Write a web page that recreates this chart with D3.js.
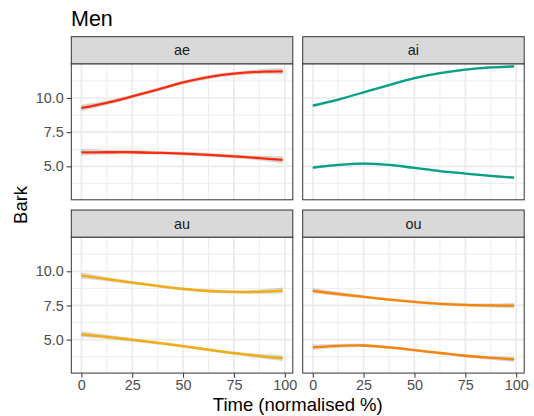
<!DOCTYPE html>
<html>
<head>
<meta charset="utf-8">
<script src="https://cdn.jsdelivr.net/npm/d3@7"></script>
<style>
  body { margin: 0; background: #fff; }
  text { font-family: "Liberation Sans", Arial, sans-serif; }
</style>
</head>
<body>
<div id="chart"></div>
<script>
// data
const vowels = ['ae', 'ai', 'au', 'ou'];
const colours = ['#FF2A0A', '#00A08A', '#F2AD00', '#F98400'];
const timePoints = [0, 12.5, 25, 37.5, 50, 62.5, 75, 87.5, 99];

const aeHigh = [9.27, 9.65, 10.12, 10.62, 11.14, 11.53, 11.78, 11.92, 11.95];
const aeLow  = [6.02, 6.03, 6.03, 5.99, 5.93, 5.84, 5.73, 5.60, 5.47];
const aiHigh = [9.44, 9.88, 10.42, 10.95, 11.45, 11.82, 12.08, 12.24, 12.31];
const aiLow  = [4.90, 5.10, 5.20, 5.10, 4.88, 4.65, 4.47, 4.30, 4.17];
const auHigh = [9.69, 9.43, 9.17, 8.93, 8.71, 8.56, 8.49, 8.50, 8.59];
const auLow  = [5.39, 5.20, 4.99, 4.76, 4.52, 4.26, 4.01, 3.80, 3.64];
const ouHigh = [8.57, 8.34, 8.13, 7.93, 7.76, 7.62, 7.54, 7.50, 7.49];
const ouLow  = [4.44, 4.54, 4.57, 4.43, 4.23, 4.02, 3.82, 3.67, 3.55];

// half width of the grey confidence band
const aeBand = [0.24, 0.17, 0.14, 0.13, 0.13, 0.13, 0.14, 0.17, 0.26];
const aiBand = [0.12, 0.09, 0.08, 0.08, 0.08, 0.08, 0.08, 0.09, 0.12];
const auBand = [0.22, 0.15, 0.12, 0.11, 0.11, 0.11, 0.12, 0.15, 0.22];
const ouBand = [0.2, 0.14, 0.11, 0.1, 0.1, 0.1, 0.11, 0.14, 0.2];

const xTicks = [0, 25, 50, 75, 100];
const xMinor = [12.5, 37.5, 62.5, 87.5];
const yTicks = [5, 7.5, 10];
const yMinor = [3.75, 6.25, 8.75, 11.25];

const lines = {
    ae: [aeHigh, aeLow], ai: [aiHigh, aiLow],
    au: [auHigh, auLow], ou: [ouHigh, ouLow]
};
const bands = { ae: aeBand, ai: aiBand, au: auBand, ou: ouBand };

const W = 534, H = 416;
const svg = d3.select('#chart').append('svg')
    .attr('width', W).attr('height', H);

const colX = [71.3, 302.7];
const panelW = 221.5;
const rowStrip = [36.7, 210];
const stripH = 27.3;
const panelH = 135.8;

const x = d3.scaleLinear().domain([-4.95, 103.95]).range([0, panelW]);
const y = d3.scaleLinear().domain([2.55, 12.49]).range([panelH, 0]);

svg.append('text')
    .attr('x', 71).attr('y', 26)
    .attr('font-size', 21.5)
    .attr('fill', '#000')
    .text('Men');

vowels.forEach((v, i) => {
    const col = i % 2, row = Math.floor(i / 2);
    const left = colX[col];
    const stripTop = rowStrip[row];
    const top = stripTop + stripH;

    // strip
    svg.append('rect')
        .attr('x', left).attr('y', stripTop)
        .attr('width', panelW).attr('height', stripH)
        .attr('fill', '#D9D9D9').attr('stroke', '#333').attr('stroke-width', 1);
    svg.append('text')
        .attr('x', left + panelW / 2).attr('y', stripTop + stripH / 2 + 5)
        .attr('text-anchor', 'middle')
        .attr('font-size', 14.4).attr('fill', '#1A1A1A')
        .text(v);

    const g = svg.append('g').attr('transform', `translate(${left},${top})`);
    g.append('rect').attr('width', panelW).attr('height', panelH).attr('fill', '#fff');

    // grid
    g.selectAll('.ym').data(yMinor).enter().append('line')
        .attr('x1', 0).attr('x2', panelW)
        .attr('y1', d => y(d)).attr('y2', d => y(d))
        .attr('stroke', '#EBEBEB').attr('stroke-width', 0.9);
    g.selectAll('.xm').data(xMinor).enter().append('line')
        .attr('y1', 0).attr('y2', panelH)
        .attr('x1', d => x(d)).attr('x2', d => x(d))
        .attr('stroke', '#EBEBEB').attr('stroke-width', 0.9);
    g.selectAll('.yM').data(yTicks).enter().append('line')
        .attr('x1', 0).attr('x2', panelW)
        .attr('y1', d => y(d)).attr('y2', d => y(d))
        .attr('stroke', '#EBEBEB').attr('stroke-width', 1.7);
    g.selectAll('.xM').data(xTicks).enter().append('line')
        .attr('y1', 0).attr('y2', panelH)
        .attr('x1', d => x(d)).attr('x2', d => x(d))
        .attr('stroke', '#EBEBEB').attr('stroke-width', 1.7);

    const clip = 'clip-' + v;
    g.append('clipPath').attr('id', clip).append('rect')
        .attr('width', panelW).attr('height', panelH);
    const plot = g.append('g').attr('clip-path', `url(#${clip})`);

    const area = d3.area()
        .x((d, j) => x(timePoints[j]))
        .y0((d, j) => y(d - bands[v][j]))
        .y1((d, j) => y(d + bands[v][j]))
        .curve(d3.curveCatmullRom);
    const line = d3.line()
        .x((d, j) => x(timePoints[j]))
        .y(d => y(d))
        .curve(d3.curveCatmullRom);

    lines[v].forEach(series => {
        plot.append('path').datum(series)
            .attr('d', area)
            .attr('fill', '#999').attr('fill-opacity', 0.4);
        plot.append('path').datum(series)
            .attr('d', line)
            .attr('fill', 'none')
            .attr('stroke', colours[i]).attr('stroke-width', 2.3);
    });

    g.append('rect').attr('width', panelW).attr('height', panelH)
        .attr('fill', 'none').attr('stroke', '#333').attr('stroke-width', 1);

    // axes
    if (col === 0) {
        const ya = g.append('g').call(d3.axisLeft(y).tickValues(yTicks)
            .tickSize(4.6).tickPadding(3).tickFormat(d3.format('.1f')));
        ya.select('.domain').remove();
        ya.selectAll('line').attr('stroke', '#333');
        ya.selectAll('text').attr('font-size', 14.4).attr('fill', '#4D4D4D')
            .attr('font-family', '"Liberation Sans", Arial, sans-serif');
    }
    if (row === 1) {
        const xa = g.append('g').attr('transform', `translate(0,${panelH})`)
            .call(d3.axisBottom(x).tickValues(xTicks).tickSize(4.6).tickPadding(2.5));
        xa.select('.domain').remove();
        xa.selectAll('line').attr('stroke', '#333');
        xa.selectAll('text').attr('font-size', 14.4).attr('fill', '#4D4D4D')
            .attr('font-family', '"Liberation Sans", Arial, sans-serif');
    }
});

svg.append('text')
    .attr('x', (colX[0] + colX[1] + panelW) / 2).attr('y', 411)
    .attr('text-anchor', 'middle')
    .attr('font-size', 18.5).attr('fill', '#000')
    .text('Time (normalised %)');

svg.append('text')
    .attr('transform', `translate(26.5,${(rowStrip[0] + rowStrip[1] + stripH + panelH) / 2}) rotate(-90)`)
    .attr('text-anchor', 'middle')
    .attr('font-size', 18.5).attr('fill', '#000')
    .text('Bark');
</script>
</body>
</html>
